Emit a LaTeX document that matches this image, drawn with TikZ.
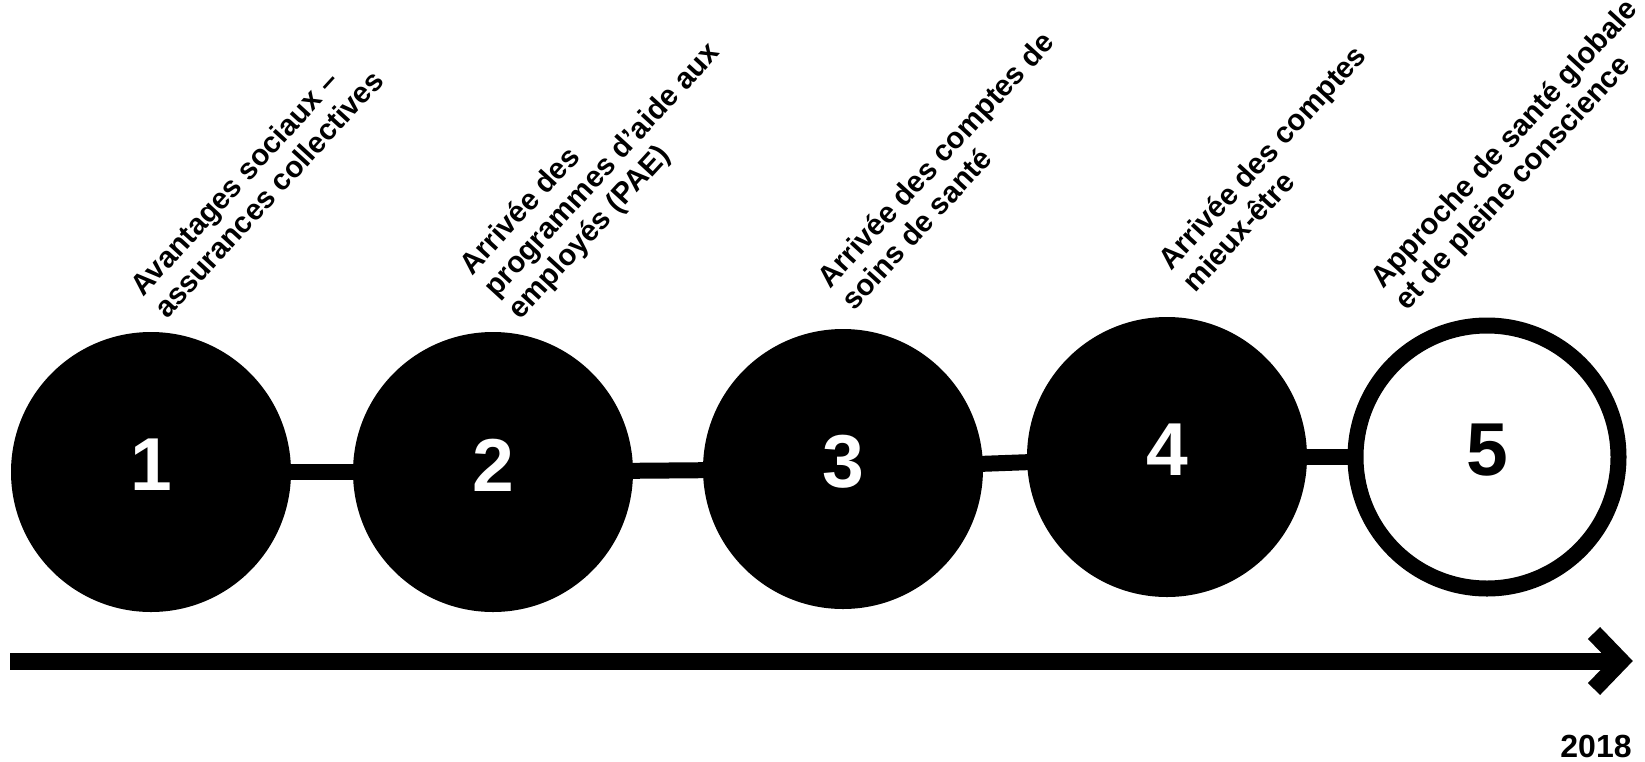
\documentclass[tikz,border=0pt]{standalone}
\usepackage{fontspec}
\setmainfont{Liberation Sans}
\usetikzlibrary{backgrounds}
\begin{document}
\begin{tikzpicture}[x=0.5pt,y=-0.5pt,
  dot/.style={circle,fill=black,minimum size=140pt,inner sep=0pt,outer sep=0pt},
  hollow/.style={circle,draw=black,fill=white,line width=8pt,minimum size=131.5pt,inner sep=0pt},
  num/.style={font=\fontsize{37.5}{40}\selectfont\bfseries,text=white,inner sep=0pt},
  lbl/.style={font=\fontsize{14.8}{16.3}\selectfont\bfseries,rotate=47.5,anchor=base west,inner sep=0pt},
  conn/.style={line width=8pt},
  axisline/.style={line width=8.5pt},
]
\useasboundingbox (0,0) rectangle (1645,761);

% circles
\node[dot] (c1) at (151,472) {};
\node[dot] (c2) at (493,472) {};
\node[dot] (c3) at (843,469) {};
\node[dot] (c4) at (1167,457) {};
\node[hollow] (c5) at (1487,457) {};

% numbers
\node[num] (n1) at ([yshift=3.5pt]c1.center) {1};
\node[num] (n2) at ([yshift=3.5pt]c2.center) {2};
\node[num] (n3) at ([yshift=3.5pt]c3.center) {3};
\node[num] (n4) at ([yshift=3.5pt]c4.center) {4};
\node[num,text=black] (n5) at ([yshift=3.5pt]c5.center) {5};

% connectors
\begin{pgfonlayer}{background}
\draw[conn] (c1.center) -- (c2.center);
\draw[conn] (c2.center) -- (c3.center);
\draw[conn] (c3.center) -- (c4.center);
\draw[conn] (c4.center) -- (c5.center);
\end{pgfonlayer}

% labels
\node[lbl] (l1) at (143,298) {\begin{tabular}[t]{@{}l@{}}Avantages sociaux –\\assurances collectives\end{tabular}};
\node[lbl] (l2) at (472,277) {\begin{tabular}[t]{@{}l@{}}Arrivée des\\programmes d’aide aux\\employés (PAE)\end{tabular}};
\node[lbl] (l3) at (830,290) {\begin{tabular}[t]{@{}l@{}}Arrivée des comptes de\\soins de santé\end{tabular}};
\node[lbl] (l4) at (1171,272) {\begin{tabular}[t]{@{}l@{}}Arrivée des comptes\\mieux-être\end{tabular}};
\node[lbl] (l5) at (1383,290) {\begin{tabular}[t]{@{}l@{}}Approche de santé globale\\et de pleine conscience\end{tabular}};

% time axis
\coordinate (ax0) at (10,661);
\coordinate (ax1) at (1621,661);
\draw[axisline] (ax0) -- (ax1);
\draw[axisline,miter limit=10] (ax1) ++(-27,-28) -- (ax1) -- ++(-27,28);

\node[font=\fontsize{16}{18}\selectfont\bfseries,anchor=base east,inner sep=0pt] (year) at (1632,757) {2018};
\end{tikzpicture}
\end{document}
